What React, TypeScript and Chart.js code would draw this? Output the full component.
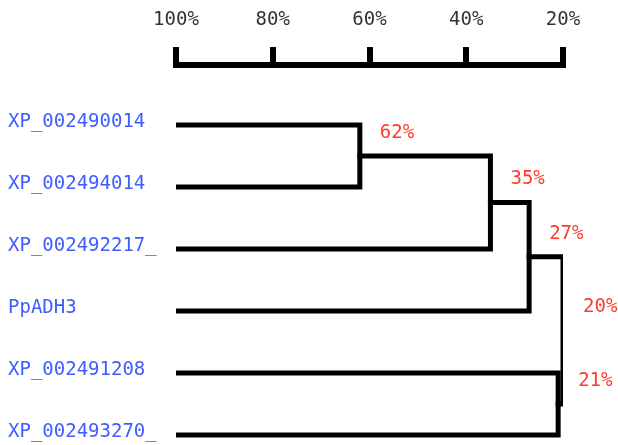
import React, { useEffect, useRef } from "react";
import { Chart, registerables } from "chart.js";

Chart.register(...registerables);

// Leaves (top to bottom)
const leafLabels = [
  "XP_002490014",
  "XP_002494014",
  "XP_002492217_",
  "PpADH3",
  "XP_002491208",
  "XP_002493270_",
];
// Merge steps (linkage): indices < 6 are leaves, 6+k is merge k
const mergeA = [0, 6, 7, 4, 8];
const mergeB = [1, 2, 3, 5, 9];
const mergeLevels = [62, 35, 27, 21, 20];
const mergeLabels = ["62%", "35%", "27%", "21%", "20%"];
// Axis ticks
const axisTicks = [100, 80, 60, 40, 20];
const axisTickLabels = ["100%", "80%", "60%", "40%", "20%"];

const FONT = "'DejaVu Sans Mono', monospace";

function nodeX(i: number): number {
  return i < leafLabels.length ? 100 : mergeLevels[i - leafLabels.length];
}
function nodeY(i: number): number {
  if (i < leafLabels.length) return i;
  const k = i - leafLabels.length;
  return (nodeY(mergeA[k]) + nodeY(mergeB[k])) / 2;
}

export default function App() {
  const ref = useRef<HTMLCanvasElement | null>(null);
  useEffect(() => {
    if (!ref.current) return;
    const datasets = mergeLevels.map((lvl, k) => {
      const a = mergeA[k];
      const b = mergeB[k];
      return {
        data: [
          { x: nodeX(a), y: nodeY(a) },
          { x: lvl, y: nodeY(a) },
          { x: lvl, y: nodeY(b) },
          { x: nodeX(b), y: nodeY(b) },
        ],
        showLine: true,
        borderColor: "#000",
        backgroundColor: "#000",
        borderWidth: 5,
        pointRadius: 0,
        tension: 0,
        borderJoinStyle: "miter" as const,
        borderCapStyle: "square" as const,
      };
    });

    const labelPlugin = {
      id: "mergeLabels",
      afterDatasetsDraw(chart: any) {
        const { ctx, scales } = chart;
        ctx.save();
        ctx.font = `19px ${FONT}`;
        ctx.fillStyle = "#ff3b2b";
        ctx.textAlign = "left";
        ctx.textBaseline = "middle";
        mergeLevels.forEach((lvl, k) => {
          const px = scales.x.getPixelForValue(lvl) + 20;
          const py = scales.y.getPixelForValue(nodeY(leafLabels.length + k)) - 23;
          ctx.fillText(mergeLabels[k], px, py);
        });
        ctx.restore();
      },
    };

    const chart = new Chart(ref.current, {
      type: "scatter",
      data: { datasets },
      plugins: [labelPlugin],
      options: {
        animation: false,
        responsive: false,
        layout: { padding: { left: 8, right: 55, top: 0, bottom: 0 } },
        plugins: { legend: { display: false }, tooltip: { enabled: false } },
        scales: {
          x: {
            type: "linear",
            position: "top",
            reverse: true,
            min: 20,
            max: 100,
            afterBuildTicks: (s: any) => {
              s.ticks = axisTicks.map((v) => ({ value: v }));
            },
            afterFit: (s: any) => {
              s.height = 65;
            },
            ticks: {
              callback: (v: any) => {
                const i = axisTicks.indexOf(Number(v));
                return i >= 0 ? axisTickLabels[i] : "";
              },
              font: { family: FONT, size: 19 },
              color: "#333",
              padding: 16,
              maxRotation: 0,
            },
            grid: {
              drawOnChartArea: false,
              drawTicks: true,
              tickLength: 18,
              lineWidth: 6,
              color: "#000",
            },
            border: { display: true, width: 6, color: "#000" },
          },
          y: {
            type: "linear",
            position: "left",
            reverse: true,
            min: -0.9677,
            max: 5.1613,
            afterBuildTicks: (s: any) => {
              s.ticks = leafLabels.map((_, i) => ({ value: i }));
            },
            afterFit: (s: any) => {
              s.width = 168;
              s.paddingTop = 0;
              s.paddingBottom = 0;
            },
            ticks: {
              callback: (v: any) => leafLabels[Number(v)] ?? "",
              font: { family: FONT, size: 19 },
              color: "#3f5cff",
              crossAlign: "far",
              autoSkip: false,
              labelOffset: -3,
            },
            grid: { display: false, drawTicks: false },
            border: { display: false },
          },
        },
      },
    } as any);
    return () => chart.destroy();
  }, []);

  return (
    <div style={{ position: "absolute", left: 0, top: 0, width: 618, height: 445 }}>
      <canvas ref={ref} width={618} height={445} />
    </div>
  );
}
